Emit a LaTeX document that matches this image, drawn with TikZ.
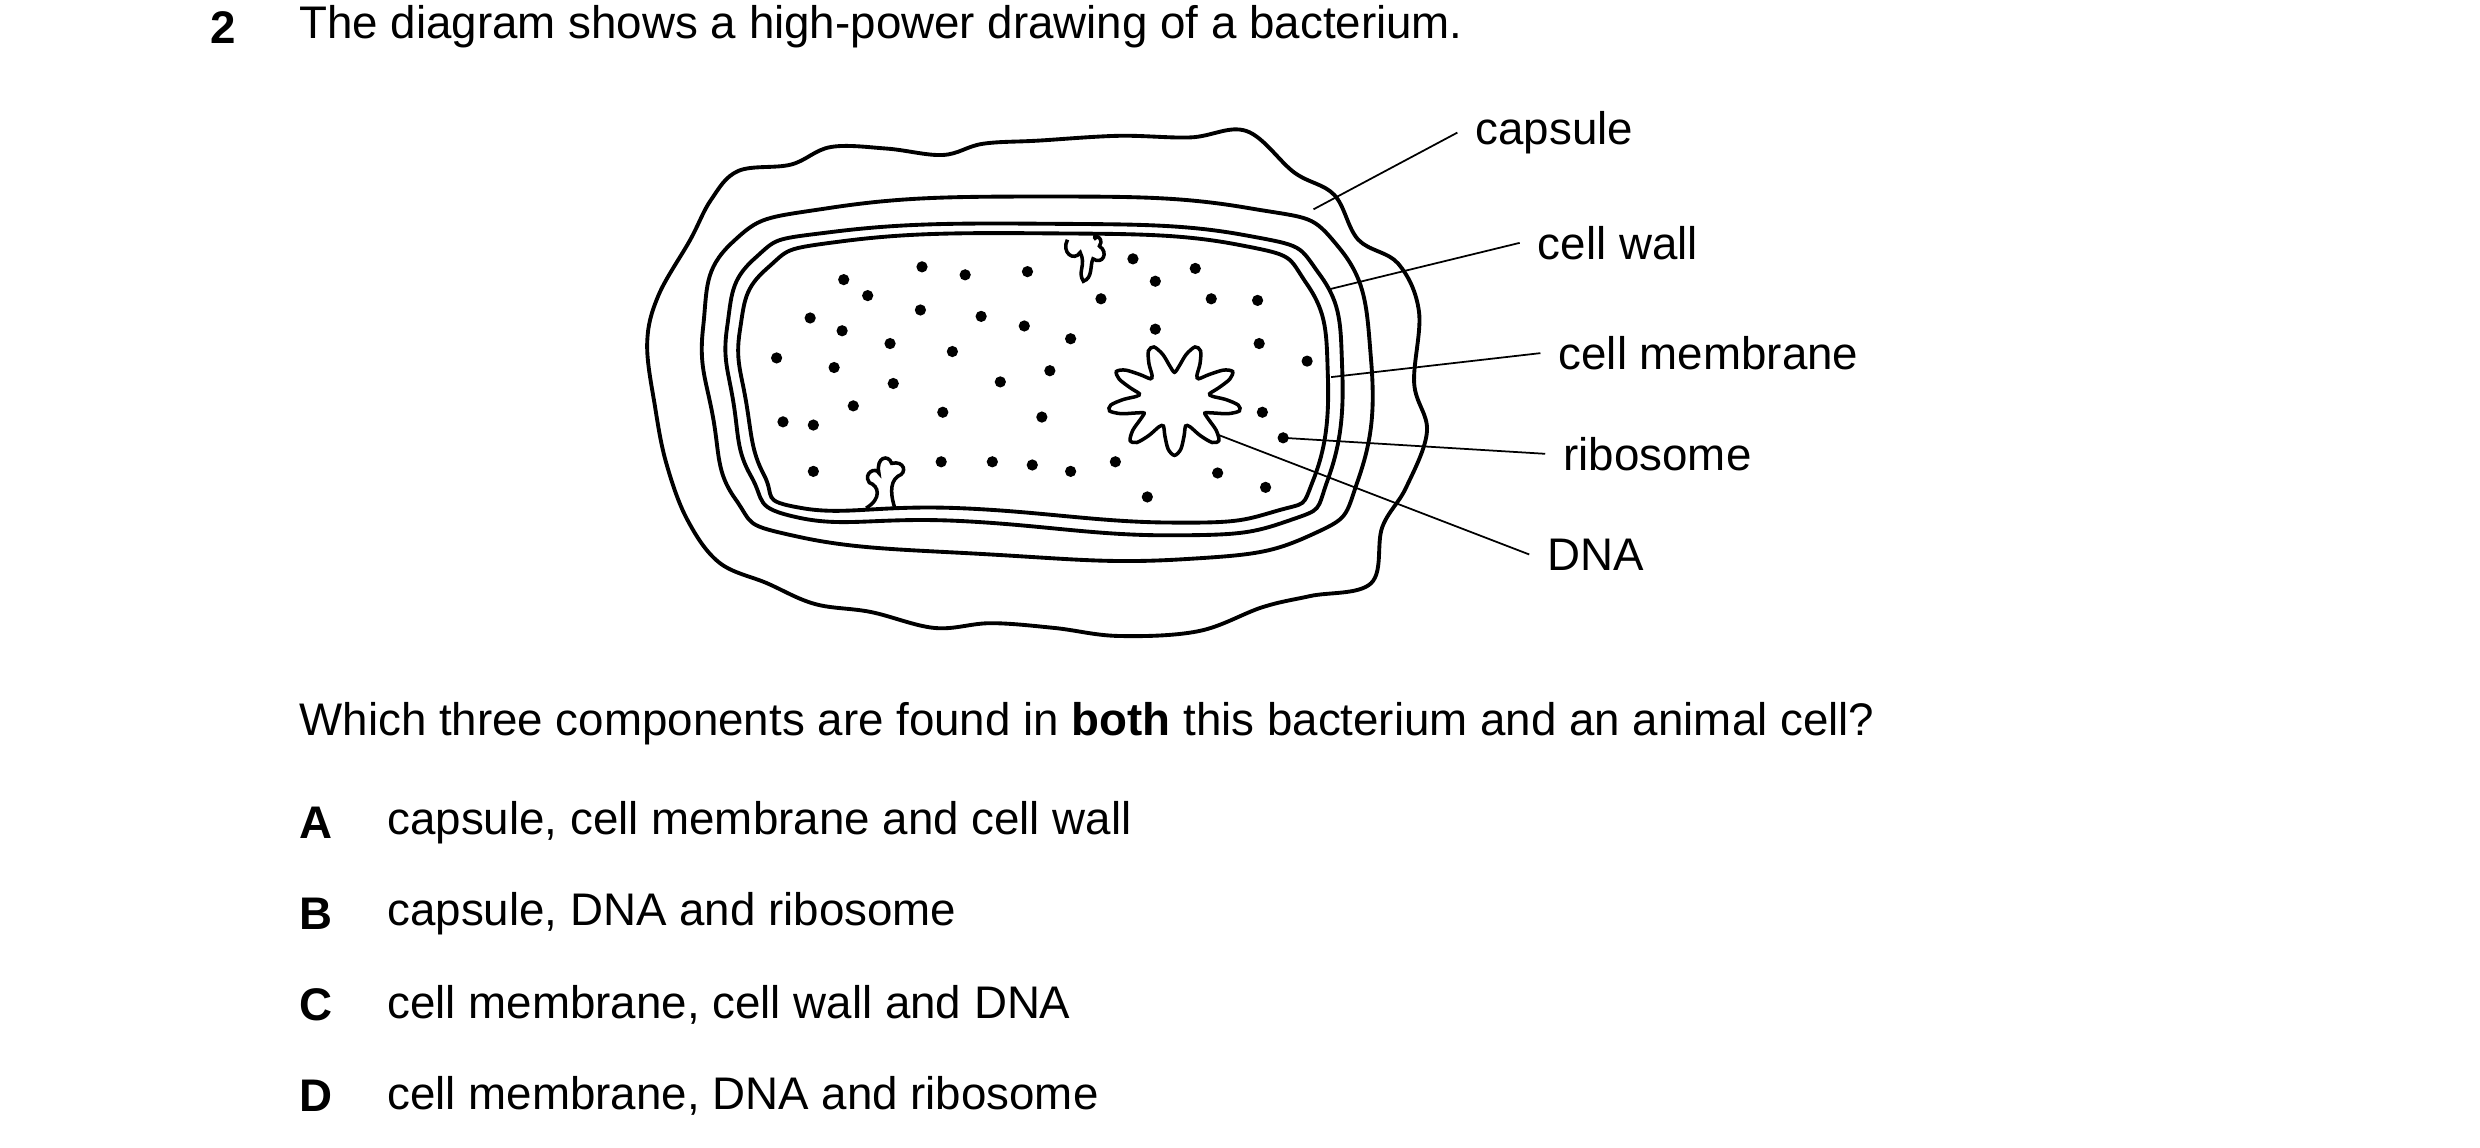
\documentclass[tikz,border=0pt]{standalone}
\usepackage{fontspec}
\setmainfont{Liberation Sans}
\begin{document}
\begin{tikzpicture}[x=0.01598cm,y=-0.01598cm,
 txt/.style={anchor=west,inner sep=0pt,font=\fontsize{13}{15}\selectfont},
 lead/.style={line width=0.5pt},
 outl/.style={line width=1.1pt},
 dot/.style={circle,fill,inner sep=0pt,minimum size=3.2pt}]
\useasboundingbox (0,0) rectangle (1552,718);
\node[txt,font=\fontsize{13}{15}\selectfont\bfseries] (num) at (131,17) {2};
\node[txt] (title) at (187,17) {The diagram shows a high-power drawing of a bacterium.};
% capsule
\draw[outl] plot[smooth cycle,tension=0.6] coordinates {(405,215)(412,185)(432,150)(445,125)(462,107)(495,103)(520,92)(555,93)(590,97)(615,90)(650,88)(700,85)(745,86)(780,82)(810,108)(835,122)(850,150)(875,165)(888,195)(885,240)(893,270)(880,305)(865,330)(858,365)(820,373)(790,380)(750,395)(700,398)(660,393)(620,390)(585,393)(545,383)(510,378)(480,365)(450,352)(430,325)(417,290)(410,255)};
% cell wall
\draw[outl] plot[smooth cycle,tension=0.8] coordinates {(440,205)(458,152)(520,130)(650,123)(780,130)(838,155)(858,225)(850,300)(820,335)(740,350)(620,347)(500,336)(460,312)(446,260)};
\draw[outl] plot[smooth cycle,tension=0.8] coordinates {(455,205)(472,162)(522,145)(650,140)(778,147)(826,172)(840,232)(831,300)(806,326)(730,335)(600,326)(500,324)(470,298)(459,252)};
% membrane
\draw[outl] plot[smooth cycle,tension=0.8] coordinates {(463,207)(480,168)(527,151)(650,146)(774,153)(818,178)(831,236)(822,300)(798,320)(730,327)(600,318)(502,318)(478,297)(467,252)};
% mesosomes
\draw[line width=1pt] (668,150) .. controls (664,158) and (672,164) .. (676,158) .. controls (680,166) and (674,170) .. (678,176) .. controls (684,174) and (682,166) .. (684,162) .. controls (690,166) and (694,158) .. (688,154) .. controls (692,148) and (682,146) .. (686,150);
\draw[line width=1pt] (542,318) .. controls (552,312) and (550,304) .. (544,302) .. controls (540,296) and (548,292) .. (550,296) .. controls (548,286) and (556,284) .. (558,290) .. controls (566,288) and (568,296) .. (562,298) .. controls (556,302) and (558,312) .. (560,318);
% DNA
\draw[line width=1pt] plot[smooth cycle,domain=0:354,samples=60] ({735+(32+10*sin(9*\x))*cos(\x)},{250+(26+9*sin(9*\x))*sin(\x)});
% ribosomes
\foreach \p [count=\i] in {(528,175),(543,185),(577,167),(604,172),(643,170),(709,162),(723,176),(748,168),(689,187),(758,187),(787,188),(507,199),(527,207),(576,194),(614,198),(641,204),(670,212),(723,206),(788,215),(557,215),(596,220),(486,224),(522,230),(657,232),(818,226),(559,240),(626,239),(534,254),(590,258),(652,261),(790,258),(490,264),(509,266),(509,295),(589,289),(621,289),(646,291),(670,295),(698,289),(762,296),(792,305),(718,311)}
 \node[dot] (r\i) at \p {};
\node[dot] (rib) at (803,274) {};
% labels
\node[txt] (lcap) at (923,83) {capsule};
\node[txt] (lwall) at (962,152) {cell wall};
\node[txt] (lmem) at (975,221) {cell membrane};
\node[txt] (lrib) at (978,284) {ribosome};
\node[txt] (ldna) at (968,347) {DNA};
\coordinate (pcap) at (822,131);
\coordinate (pwall) at (832,181);
\coordinate (pmem) at (833,236);
\coordinate (pdna) at (762,272);
\draw[lead] (pcap) -- ([xshift=-5pt]lcap.west);
\draw[lead] (pwall) -- ([xshift=-5pt]lwall.west);
\draw[lead] (pmem) -- ([xshift=-5pt]lmem.west);
\draw[lead] (rib.center) -- ([xshift=-5pt]lrib.west);
\draw[lead] (pdna) -- ([xshift=-5pt]ldna.west);
% question
\node[txt] (q) at (187,453) {Which three components are found in \textbf{both} this bacterium and an animal cell?};
\node[txt,font=\fontsize{13}{15}\selectfont\bfseries] (A) at (187,515) {A};
\node[txt] (At) at (242,515) {capsule, cell membrane and cell wall};
\node[txt,font=\fontsize{13}{15}\selectfont\bfseries] (B) at (187,572) {B};
\node[txt] (Bt) at (242,572) {capsule, DNA and ribosome};
\node[txt,font=\fontsize{13}{15}\selectfont\bfseries] (C) at (187,629) {C};
\node[txt] (Ct) at (242,629) {cell membrane, cell wall and DNA};
\node[txt,font=\fontsize{13}{15}\selectfont\bfseries] (D) at (187,686) {D};
\node[txt] (Dt) at (242,686) {cell membrane, DNA and ribosome};
\end{tikzpicture}
\end{document}
